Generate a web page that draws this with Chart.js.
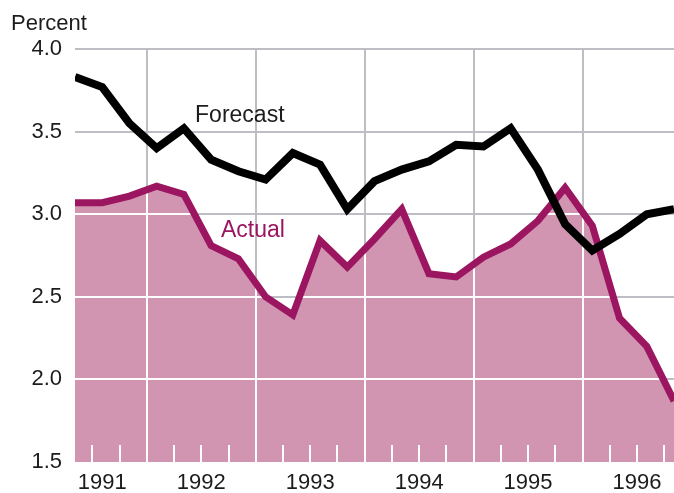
<!DOCTYPE html>
<html>
<head>
<meta charset="utf-8">
<script src="https://cdn.jsdelivr.net/npm/chart.js@4/dist/chart.umd.min.js"></script>
<style>
  html, body { margin: 0; padding: 0; background: #fff; }
</style>
</head>
<body>
<canvas id="rateChart" width="674" height="493"></canvas>
<script>
// quarterly series, 1991 Q2 through 1996 Q4
let quarters = ['1991 Q2','1991 Q3','1991 Q4',
  '1992 Q1','1992 Q2','1992 Q3','1992 Q4',
  '1993 Q1','1993 Q2','1993 Q3','1993 Q4',
  '1994 Q1','1994 Q2','1994 Q3','1994 Q4',
  '1995 Q1','1995 Q2','1995 Q3','1995 Q4',
  '1996 Q1','1996 Q2','1996 Q3','1996 Q4']
let forecast = [3.83, 3.77, 3.55, 3.40, 3.52, 3.33, 3.26, 3.21, 3.37, 3.30, 3.03, 3.20,
  3.27, 3.32, 3.42, 3.41, 3.52, 3.27, 2.94, 2.78, 2.88, 3.00, 3.03]
let actual = [3.07, 3.07, 3.11, 3.17, 3.12, 2.81, 2.73, 2.50, 2.39, 2.84, 2.68, 2.85,
  3.03, 2.64, 2.62, 2.74, 2.82, 2.96, 3.16, 2.93, 2.37, 2.20, 1.87]
let years = [1991, 1992, 1993, 1994, 1995, 1996]
let yTicks = [1.5, 2.0, 2.5, 3.0, 3.5, 4.0]

const FONT = 'Liberation Sans, Arial, Helvetica, sans-serif'
const MAGENTA = '#9b1560'
const FILL = '#d195b2'
const GRID = '#bdbdc4'
const INK = '#1c1c1c'

// a quarter's boundary sits a little before its point
const qShift = 0.36
let quarterStarts = quarters.map((q, i) => i - qShift).filter(v => v > 0)
let yearStarts = quarters.map((q, i) => q.endsWith('Q1') ? i - qShift : null).filter(v => v !== null)
let yearMids = years.map(yr => {
  let i = quarters.indexOf(yr + ' Q1')
  let start = i >= 0 ? i - qShift : quarters.indexOf(yr + ' Q2') - 1 - qShift
  return Math.max(start + 2, 1)
})

let pts = arr => arr.map((v, i) => ({ x: i, y: v }))

const overlay = {
  id: 'overlay',
  afterDatasetDraw(chart, args) {
    if (args.index !== 0) return
    const { ctx, chartArea: a, scales: { x, y } } = chart
    const p = args.meta.data
    ctx.save()
    ctx.beginPath()
    ctx.moveTo(p[0].x, a.bottom)
    p.forEach(e => ctx.lineTo(e.x, e.y))
    ctx.lineTo(p[p.length - 1].x, a.bottom)
    ctx.closePath()
    ctx.clip()
    ctx.strokeStyle = '#fff'
    ctx.lineWidth = 2
    ctx.beginPath()
    yearStarts.forEach(v => {
      let px = Math.round(x.getPixelForValue(v))
      ctx.moveTo(px, a.top); ctx.lineTo(px, a.bottom)
    })
    yTicks.slice(1, -1).forEach(v => {
      let py = Math.round(y.getPixelForValue(v))
      ctx.moveTo(a.left, py); ctx.lineTo(a.right, py)
    })
    quarterStarts.forEach(v => {
      let px = Math.round(x.getPixelForValue(v))
      ctx.moveTo(px, a.bottom - 17); ctx.lineTo(px, a.bottom)
    })
    ctx.stroke()
    ctx.restore()
  },
  afterDraw(chart) {
    const { ctx, scales: { x, y } } = chart
    ctx.save()
    ctx.font = '22px ' + FONT
    ctx.textAlign = 'left'
    ctx.textBaseline = 'alphabetic'
    ctx.fillStyle = INK
    ctx.fillText('Percent', 11, 30)
    ctx.font = '23px ' + FONT
    ctx.fillText('Forecast', x.getPixelForValue(4.41), y.getPixelForValue(3.56))
    ctx.fillStyle = MAGENTA
    ctx.fillText('Actual', x.getPixelForValue(5.36), y.getPixelForValue(2.86))
    ctx.restore()
  }
}

let rateChart = document.getElementById('rateChart').getContext('2d')
let rates = new Chart(rateChart, {
  type: 'line',
  data: {
    datasets: [{
      label: 'Actual area',
      data: pts(actual),
      fill: 'start',
      backgroundColor: FILL,
      borderWidth: 0,
      pointRadius: 0,
      order: 3
    }, {
      label: 'Actual',
      data: pts(actual),
      fill: false,
      borderColor: MAGENTA,
      borderWidth: 7,
      pointRadius: 0,
      order: 2
    }, {
      label: 'Forecast',
      data: pts(forecast),
      fill: false,
      borderColor: '#000',
      borderWidth: 8,
      pointRadius: 0,
      order: 1
    }]
  },
  options: {
    responsive: false,
    animation: false,
    devicePixelRatio: 1,
    layout: { padding: { top: 49, left: 0, right: 0, bottom: 0 } },
    plugins: { legend: { display: false }, tooltip: { enabled: false } },
    scales: {
      x: {
        type: 'linear', min: 0, max: quarters.length - 1,
        afterBuildTicks: s => { s.ticks = yearStarts.map(v => ({ value: v })) },
        grid: { color: GRID, lineWidth: 2, drawTicks: false },
        border: { display: false },
        ticks: { display: false },
        afterFit: s => { s.height = 0 }
      },
      xl: {
        type: 'linear', position: 'bottom', min: 0, max: quarters.length - 1,
        afterBuildTicks: s => { s.ticks = yearMids.map(v => ({ value: v })) },
        grid: { display: false, drawTicks: false },
        border: { display: false },
        ticks: {
          autoSkip: false, maxRotation: 0, padding: 8,
          color: INK, font: { family: FONT, size: 22 },
          callback: (v, i) => years[i]
        },
        afterFit: s => { s.height = 31 }
      },
      y: {
        min: 1.5, max: 4.0,
        afterBuildTicks: s => { s.ticks = yTicks.map(v => ({ value: v })) },
        grid: {
          color: c => c.tick && c.tick.value === 1.5 ? 'rgba(0,0,0,0)' : GRID,
          lineWidth: 2, drawTicks: false
        },
        border: { display: false },
        ticks: {
          padding: 13, color: INK, font: { family: FONT, size: 22 },
          callback: v => v.toFixed(1)
        },
        afterFit: s => { s.width = 75 }
      }
    }
  },
  plugins: [overlay]
})
</script>
</body>
</html>
